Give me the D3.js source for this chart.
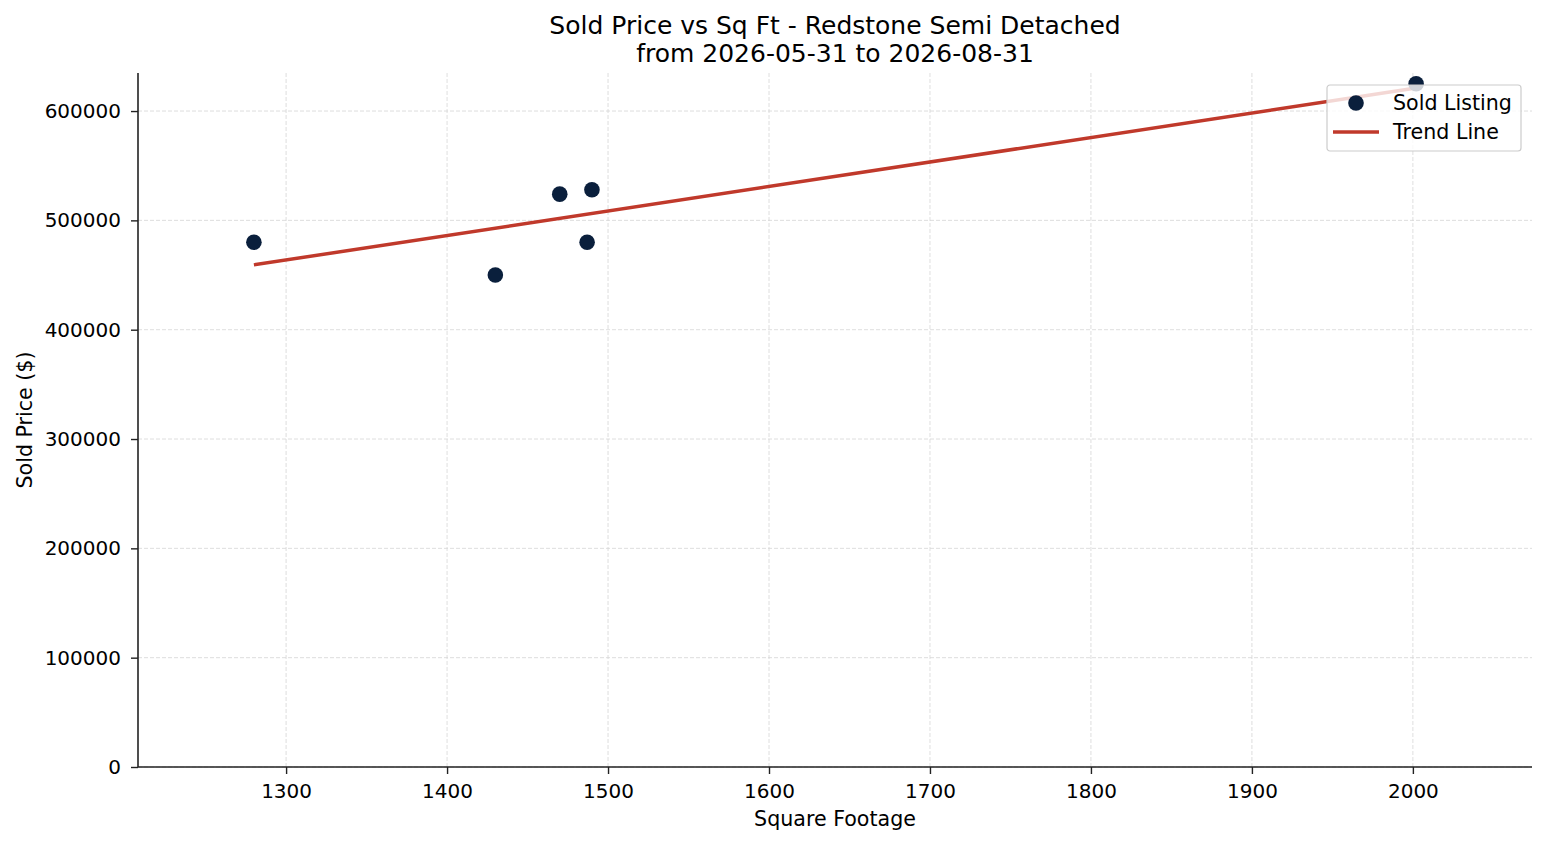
<!DOCTYPE html>
<html>
<head>
<meta charset="utf-8">
<script src="https://cdn.jsdelivr.net/npm/d3@7"></script>
<style>
  body { margin: 0; background: #fff; }
  svg, svg text { font-family: "DejaVu Sans", sans-serif; }
</style>
</head>
<body>
<svg id="chart" width="1547" height="845"></svg>
<script>
// sold listings
var sqft   = [1280, 1430, 1470, 1490, 1487, 2002];
var prices = [480000, 450000, 524000, 528000, 480000, 625000];

// trend line end points (least squares fit as drawn)
var trendX = [1280, 2002];
var trendY = [459300, 621000];

var xTicks = [1300, 1400, 1500, 1600, 1700, 1800, 1900, 2000];
var yTicks = [0, 100000, 200000, 300000, 400000, 500000, 600000];

var titleLines = ["Sold Price vs Sq Ft - Redstone Semi Detached", "from 2026-05-31 to 2026-08-31"];

var svg = d3.select("svg#chart"),
    margin = {top: 73, left: 138, bottom: 78, right: 15},
    width = 1547,
    height = 845;

var x = d3.scaleLinear()
  .domain([1208, 2074])
  .range([margin.left, width - margin.right]);

var y = d3.scaleLinear()
  .domain([0, 634800])
  .range([height - margin.bottom, margin.top]);

// grid
var grid = svg.append("g").attr("class", "grid");
grid.selectAll("line.gx")
  .data(xTicks)
  .enter().append("line")
  .attr("x1", d => x(d)).attr("x2", d => x(d))
  .attr("y1", y.range()[0]).attr("y2", y.range()[1])
  .attr("stroke", "#d6d6d6").attr("stroke-width", 0.8)
  .attr("stroke-dasharray", "4,2");
grid.selectAll("line.gy")
  .data(yTicks)
  .enter().append("line")
  .attr("x1", x.range()[0]).attr("x2", x.range()[1])
  .attr("y1", d => y(d)).attr("y2", d => y(d))
  .attr("stroke", "#d6d6d6").attr("stroke-width", 0.8)
  .attr("stroke-dasharray", "4,2");

// axes
var xAxis = svg.append("g")
  .attr("transform", translate(0, height - margin.bottom))
  .call(d3.axisBottom(x).tickValues(xTicks).tickSize(7).tickPadding(10).tickFormat(d3.format("d")));

var yAxis = svg.append("g")
  .attr("transform", translate(margin.left, 0))
  .call(d3.axisLeft(y).tickValues(yTicks).tickSize(7).tickPadding(10).tickFormat(d3.format("d")));

[xAxis, yAxis].forEach(function(a) {
  a.attr("font-family", "DejaVu Sans").attr("font-size", 20);
  a.selectAll(".tick text").attr("fill", "#000");
  a.select(".domain").attr("stroke", "#222").attr("stroke-width", 1.6);
  a.selectAll(".tick line").attr("stroke", "#222").attr("stroke-width", 1.4);
});
// spines without the end caps
xAxis.select(".domain").attr("d", "M" + x.range()[0] + ",0H" + x.range()[1]);
yAxis.select(".domain").attr("d", "M0," + y.range()[0] + "V" + y.range()[1]);

// trend line
var line = d3.line()
  .x(d => x(d[0]))
  .y(d => y(d[1]));
svg.append("path")
  .datum(d3.zip(trendX, trendY))
  .attr("d", line)
  .attr("fill", "none")
  .attr("stroke", "#c0392b")
  .attr("stroke-width", 3.5);

// points
svg.append("g").selectAll("circle")
  .data(d3.zip(sqft, prices))
  .enter().append("circle")
  .attr("cx", d => x(d[0]))
  .attr("cy", d => y(d[1]))
  .attr("r", 7.8)
  .attr("fill", "#0a1f3c");

// title
svg.append("g").selectAll("text")
  .data(titleLines)
  .enter().append("text")
  .attr("x", (x.range()[0] + x.range()[1]) / 2)
  .attr("y", (d, i) => 34 + i * 28)
  .attr("text-anchor", "middle")
  .attr("font-size", 25)
  .text(d => d);

// axis labels
svg.append("text")
  .attr("x", (x.range()[0] + x.range()[1]) / 2)
  .attr("y", 826)
  .attr("text-anchor", "middle")
  .attr("font-size", 20.6)
  .text("Square Footage");

svg.append("text")
  .attr("transform", translate(32, (y.range()[0] + y.range()[1]) / 2) + " rotate(-90)")
  .attr("text-anchor", "middle")
  .attr("font-size", 20.6)
  .text("Sold Price ($)");

// legend
var legend = svg.append("g").attr("transform", translate(1327, 85));
legend.append("rect")
  .attr("width", 194).attr("height", 66)
  .attr("rx", 3)
  .attr("fill", "#fff").attr("fill-opacity", 0.8)
  .attr("stroke", "#cccccc").attr("stroke-width", 1.2);
legend.append("circle")
  .attr("cx", 29).attr("cy", 18).attr("r", 7.8)
  .attr("fill", "#0a1f3c");
legend.append("line")
  .attr("x1", 6).attr("x2", 52).attr("y1", 47).attr("y2", 47)
  .attr("stroke", "#c0392b").attr("stroke-width", 3.5);
legend.selectAll("text.lab")
  .data(["Sold Listing", "Trend Line"])
  .enter().append("text")
  .attr("x", 66)
  .attr("y", (d, i) => 25 + i * 29)
  .attr("font-size", 20.6)
  .text(d => d);

/*
 * returns a translate string for the transform attribute
 */
function translate(x, y) {
  return 'translate(' + String(x) + ',' + String(y) + ')';
}
</script>
</body>
</html>
